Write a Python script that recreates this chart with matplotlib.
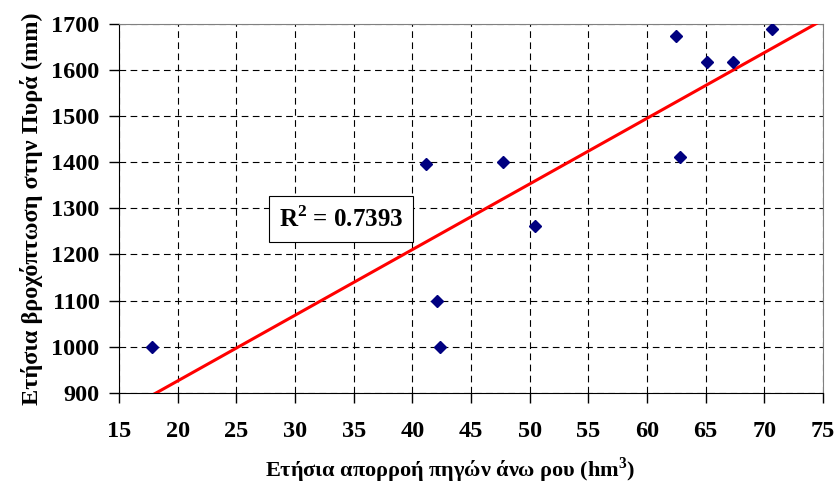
import matplotlib
matplotlib.use('Agg')
import matplotlib.pyplot as plt
import numpy as np

# annual runoff (hm3) vs annual rainfall (mm)
runoff = [17.8, 41.2, 47.7, 50.5, 42.1, 42.4, 62.5, 65.1, 67.3, 70.7, 62.8]
rainfall = [1000, 1397, 1400, 1261, 1100, 1000, 1673, 1618, 1618, 1690, 1411]
r2_text = 'R$^2$ = 0.7393'

plt.rcParams['font.family'] = ['Liberation Serif', 'DejaVu Serif']
plt.rcParams['font.weight'] = 'bold'
plt.rcParams['mathtext.fontset'] = 'custom'
plt.rcParams['mathtext.rm'] = 'Liberation Serif:bold'

fig = plt.figure(figsize=(8.38, 4.88), dpi=100, facecolor='white')
ax = fig.add_axes([0.142, 0.195, 0.840, 0.756])

# linear trend
coef = np.polyfit(runoff, rainfall, 1)
xs = np.array([15, 75])
ax.plot(xs, np.polyval(coef, xs), color='#ff0000', lw=2.2, zorder=3)
ax.plot(runoff, rainfall, 'D', color='#000080', markersize=6.5, zorder=4)

ax.set_xlim(15, 75)
ax.set_ylim(900, 1700)
ax.set_xticks(np.arange(15, 76, 5))
ax.set_yticks(np.arange(900, 1701, 100))
ax.grid(True, color='black', linestyle=(0, (6, 4)), lw=0.8)
ax.tick_params(direction='out', length=7, labelsize=17.5, width=1)
for s in ['top', 'right']:
    ax.spines[s].set_color('#808080')
for s in ['left', 'bottom']:
    ax.spines[s].set_color('black')
for lbl in ax.get_xticklabels() + ax.get_yticklabels():
    lbl.set_fontweight('bold')
ax.tick_params(axis='x', pad=13)
ax.tick_params(axis='y', pad=7)

ax.set_xlabel('Ετήσια απορροή πηγών άνω ρου (hm$^3$)', fontsize=16,
              fontweight='bold')
ax.xaxis.set_label_coords(0.47, -0.209)
ax.xaxis.label.set_va('center')
ax.set_ylabel('Ετήσια βροχόπτωση στην Πυρά (mm)', fontsize=17.5,
              fontweight='bold', labelpad=6)

ax.text(33.9, 1277, r2_text, fontsize=18, fontweight='bold', ha='center', va='center',
        bbox=dict(facecolor='white', edgecolor='black', lw=0.8, pad=7), zorder=5)

fig.savefig('out.png', dpi=100)
